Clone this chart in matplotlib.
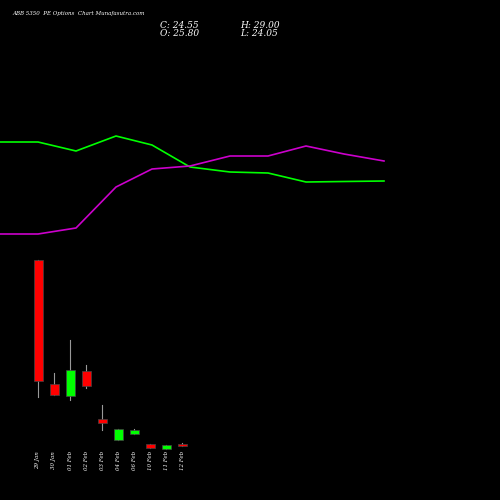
import matplotlib
matplotlib.use('Agg')
import matplotlib.pyplot as plt

dates = ['29 Jan', '30 Jan', '01 Feb', '02 Feb', '03 Feb', '04 Feb', '06 Feb', '10 Feb', '11 Feb', '12 Feb']
# candle values on the chart's vertical scale (higher = up)
opens = [240, 116, 104, 129, 81, 60, 66, 56, 51, 56]
closes = [119, 105, 130, 114, 77, 71, 70, 52, 55, 54]
highs = [240, 127, 160, 135, 95, 71, 71, 56, 55, 57]
lows = [103, 105, 100, 112, 70, 60, 66, 52, 51, 54]

line_x = [0, 38, 76, 116, 152, 190, 230, 268, 306, 344, 384]
green_line = [358, 358, 349, 364, 355, 333, 328, 327, 318, 318.5, 319]
purple_line = [266, 266, 272, 313, 331, 334, 344, 344, 354, 346, 339]

fig = plt.figure(figsize=(5, 5), dpi=100, facecolor='black')
ax = fig.add_axes([0, 0, 1, 1])
ax.set_facecolor('black')
ax.set_xlim(0, 500)
ax.set_ylim(0, 500)
ax.axis('off')

ax.plot(line_x, green_line, color='#00ff00', lw=1.2)
ax.plot(line_x, purple_line, color='#cc00cc', lw=1.2)

for i, d in enumerate(dates):
    x = 38 + 16 * i
    o, c, h, l = opens[i], closes[i], highs[i], lows[i]
    col = '#00ff00' if c > o else '#ff0000'
    ax.plot([x, x], [l, h], color='#999999', lw=0.8, zorder=1)
    lo, hi = min(o, c), max(o, c)
    ax.add_patch(plt.Rectangle((x - 4.5, lo), 9, max(hi - lo, 1.5), facecolor=col,
                               edgecolor='#444444', lw=0.5, zorder=2))
    ax.text(x, 40, d, color='white', fontsize=4, rotation=90, ha='center', va='center',
            family='DejaVu Serif', style='italic')

ax.text(12, 486, 'ABB 5350  PE Options  Chart Munafasutra.com', color='white', fontsize=4,
        family='DejaVu Serif', style='italic', va='center')
ax.text(160, 474, 'C: 24.55', color='white', fontsize=6.5, family='DejaVu Serif', style='italic', va='center')
ax.text(240, 474, 'H: 29.00', color='white', fontsize=6.5, family='DejaVu Serif', style='italic', va='center')
ax.text(160, 466, 'O: 25.80', color='white', fontsize=6.5, family='DejaVu Serif', style='italic', va='center')
ax.text(240, 466, 'L: 24.05', color='white', fontsize=6.5, family='DejaVu Serif', style='italic', va='center')

fig.savefig('out.png', facecolor='black')
